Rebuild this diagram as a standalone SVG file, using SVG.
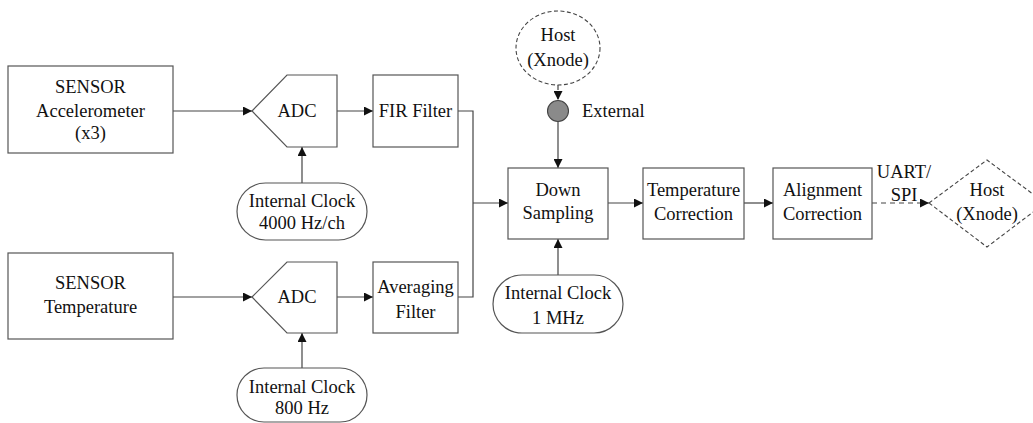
<svg xmlns="http://www.w3.org/2000/svg" width="1033" height="423" viewBox="0 0 1033 423">
  <style>
    .box { fill: #ffffff; stroke: #555555; stroke-width: 1.2; }
    .dash { fill: #ffffff; stroke: #444444; stroke-width: 1.1; stroke-dasharray: 4 2.5; }
    .wire { fill: none; stroke: #444444; stroke-width: 1.2; }
    .wire-dash { fill: none; stroke: #444444; stroke-width: 1.2; stroke-dasharray: 5 4; }
    text { font-family: 'Liberation Serif', 'DejaVu Serif', serif; font-size: 18.5px; fill: #111111; text-anchor: middle; }
    .left { text-anchor: start; }
  </style>
  <defs>
    <marker id="arrow" viewBox="0 0 10 10" refX="10" refY="5" markerWidth="9" markerHeight="9" markerUnits="userSpaceOnUse" orient="auto">
      <path d="M0,0 L10,5 L0,10 Z" fill="#111111"/>
    </marker>
  </defs>

  <rect width="1033" height="423" fill="#ffffff"/>

  <!-- connectors -->
  <g id="connectors">
    <line class="wire" x1="173" y1="111" x2="252" y2="111" marker-end="url(#arrow)"/>
    <line class="wire" x1="173" y1="297" x2="252" y2="297" marker-end="url(#arrow)"/>
    <line class="wire" x1="302" y1="183" x2="302" y2="147" marker-end="url(#arrow)"/>
    <line class="wire" x1="302" y1="368" x2="302" y2="333" marker-end="url(#arrow)"/>
    <line class="wire" x1="337" y1="111" x2="373" y2="111" marker-end="url(#arrow)"/>
    <line class="wire" x1="337" y1="297" x2="373" y2="297" marker-end="url(#arrow)"/>
    <polyline class="wire" points="458,111 473,111 473,297 458,297"/>
    <line class="wire" x1="473" y1="203" x2="508" y2="203" marker-end="url(#arrow)"/>
    <line class="wire-dash" x1="558" y1="85" x2="558" y2="100" marker-end="url(#arrow)"/>
    <line class="wire" x1="558" y1="121" x2="558" y2="168" marker-end="url(#arrow)"/>
    <line class="wire" x1="558" y1="275" x2="558" y2="239" marker-end="url(#arrow)"/>
    <line class="wire" x1="608" y1="203" x2="643" y2="203" marker-end="url(#arrow)"/>
    <line class="wire" x1="744" y1="203" x2="773" y2="203" marker-end="url(#arrow)"/>
    <line class="wire-dash" x1="872" y1="203" x2="929" y2="203" marker-end="url(#arrow)"/>
    <text x="904" y="178">UART/</text>
    <text x="904" y="201">SPI</text>
  </g>

  <g id="sensor-accel">
    <rect class="box" x="8" y="66" width="165" height="87"/>
    <text x="90.5" y="93">SENSOR</text>
    <text x="90.5" y="117">Accelerometer</text>
    <text x="90.5" y="139">(x3)</text>
  </g>

  <g id="sensor-temp">
    <rect class="box" x="8" y="253" width="165" height="86"/>
    <text x="90.5" y="289">SENSOR</text>
    <text x="90.5" y="313">Temperature</text>
  </g>

  <g id="adc-accel">
    <polygon class="box" points="252,111 287,75 337,75 337,147 287,147"/>
    <text x="297" y="117">ADC</text>
  </g>

  <g id="adc-temp">
    <polygon class="box" points="252,297 287,262 337,262 337,333 287,333"/>
    <text x="297" y="303">ADC</text>
  </g>

  <g id="clock-4000">
    <rect class="box" x="237" y="183" width="130" height="57" rx="28.5" ry="28.5"/>
    <text x="302" y="207">Internal Clock</text>
    <text x="302" y="229">4000 Hz/ch</text>
  </g>

  <g id="clock-800">
    <rect class="box" x="237" y="368" width="130" height="54" rx="27" ry="27"/>
    <text x="302" y="393">Internal Clock</text>
    <text x="302" y="414">800 Hz</text>
  </g>

  <g id="fir-filter">
    <rect class="box" x="373" y="75" width="85" height="72"/>
    <text x="415.5" y="117">FIR Filter</text>
  </g>

  <g id="averaging-filter">
    <rect class="box" x="373" y="262" width="85" height="71"/>
    <text x="415.5" y="293">Averaging</text>
    <text x="415.5" y="318">Filter</text>
  </g>

  <g id="host-top">
    <ellipse class="dash" cx="558" cy="48" rx="42" ry="37"/>
    <text x="558" y="41">Host</text>
    <text x="558" y="66">(Xnode)</text>
  </g>

  <g id="external">
    <circle cx="558" cy="111" r="10.5" fill="#8a8a8a" stroke="#444444" stroke-width="1.1"/>
    <text class="left" x="582" y="117">External</text>
  </g>

  <g id="down-sampling">
    <rect class="box" x="508" y="168" width="100" height="71"/>
    <text x="558" y="196">Down</text>
    <text x="558" y="219">Sampling</text>
  </g>

  <g id="clock-1mhz">
    <rect class="box" x="493" y="275" width="130" height="58" rx="29" ry="29"/>
    <text x="558" y="299">Internal Clock</text>
    <text x="558" y="324">1 MHz</text>
  </g>

  <g id="temperature-correction">
    <rect class="box" x="643" y="168" width="101" height="71"/>
    <text x="693.5" y="196">Temperature</text>
    <text x="693.5" y="220">Correction</text>
  </g>

  <g id="alignment-correction">
    <rect class="box" x="773" y="168" width="99" height="71"/>
    <text x="822.5" y="196">Alignment</text>
    <text x="822.5" y="220">Correction</text>
  </g>

  <g id="host-right">
    <polygon class="dash" points="929,203 987,160 1045,203 987,247"/>
    <text x="987" y="196">Host</text>
    <text x="987" y="220">(Xnode)</text>
  </g>
</svg>
